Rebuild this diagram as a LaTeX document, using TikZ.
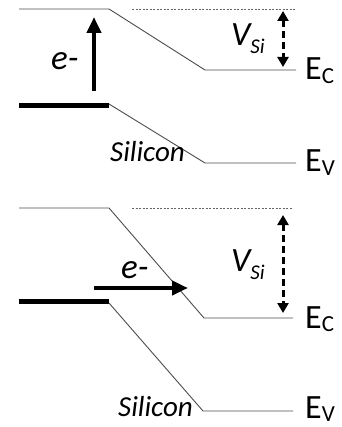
\documentclass[tikz,border=0pt]{standalone}
\usepackage{fontspec}
\setmainfont{Carlito}
\usetikzlibrary{arrows.meta}
\begin{document}
\begin{tikzpicture}[x=1pt,y=-1pt,
  band/.style={line width=0.9pt, draw=black!70},
  refline/.style={line width=0.6pt, draw=black!60, dash pattern=on 2pt off 1.5pt},
  level/.style={line width=5pt, draw=black},
  elarrow/.style={line width=4.5pt, -{Triangle[width=14pt,length=16pt]}},
  varrow/.style={line width=3pt, dash pattern=on 7pt off 4pt,
     {Triangle[width=11pt,length=10pt]}-{Triangle[width=11pt,length=10pt]}},
  lbl/.style={inner sep=0pt, anchor=base west},
  big/.style={font=\fontsize{34}{36}\selectfont},
  elbl/.style={font=\fontsize{35}{37}\selectfont\itshape},
  si/.style={font=\fontsize{29}{31}\selectfont\itshape}]
\useasboundingbox (0,0) rectangle (341,427);
\newcommand{\vsi}{\fontsize{34}{36}\selectfont\itshape V\raisebox{-8pt}{\fontsize{21}{21}\selectfont Si}}
\newcommand{\ebandlabel}[1]{E\raisebox{-3.5pt}{\fontsize{23}{23}\selectfont #1}}

% ---------- top panel ----------
\coordinate (a1) at (19,9);
\coordinate (a2) at (109,9);
\coordinate (a3) at (205,70);
\coordinate (a4) at (296,70);
\draw[band] (a1) -- (a2) -- (a3) -- (a4);
\coordinate (d1) at (132,9);
\coordinate (d2) at (296,9);
\draw[refline] (d1) -- (d2);
\coordinate (b1) at (19,105.5);
\coordinate (b2) at (109,105.5);
\draw[level] (b1) -- (b2);
\coordinate (c1) at (109,104);
\coordinate (c2) at (205,163);
\coordinate (c3) at (296,163);
\draw[band] (c1) -- (c2) -- (c3);
\coordinate (u1) at (94,91);
\coordinate (u2) at (94,17);
\draw[elarrow] (u1) -- (u2);
\coordinate (v1) at (283,11);
\coordinate (v2) at (283,67);
\draw[varrow] (v1) -- (v2);
\node[lbl,elbl] (e1) at (51,70) {e-};
\node[lbl] (vs1) at (231,46) {\vsi};
\node[lbl,big] (ec1) at (305,80) {\ebandlabel{C}};
\node[lbl,big] (ev1) at (305,172) {\ebandlabel{V}};
\node[lbl,si] (s1) at (110,162) {Silicon};

% ---------- bottom panel ----------
\coordinate (p1) at (19,208);
\coordinate (p2) at (109,208);
\coordinate (p3) at (204,318);
\coordinate (p4) at (293,318);
\draw[band] (p1) -- (p2) -- (p3) -- (p4);
\coordinate (q1) at (132,208);
\coordinate (q2) at (293,208);
\draw[refline] (q1) -- (q2);
\coordinate (r1) at (19,301);
\coordinate (r2) at (109,301);
\draw[level] (r1) -- (r2);
\coordinate (s2a) at (109,303);
\coordinate (s2b) at (203,411);
\coordinate (s2c) at (293,411);
\draw[band] (s2a) -- (s2b) -- (s2c);
\coordinate (h1) at (94,288);
\coordinate (h2) at (188,288);
\draw[elarrow] (h1) -- (h2);
\coordinate (w1) at (283,215);
\coordinate (w2) at (283,313);
\draw[varrow] (w1) -- (w2);
\node[lbl,elbl] (e2) at (121,278) {e-};
\node[lbl] (vs2) at (231,271) {\vsi};
\node[lbl,big] (ec2) at (305,328) {\ebandlabel{C}};
\node[lbl,big] (ev2) at (305,418) {\ebandlabel{V}};
\node[lbl,si] (s2) at (118,416) {Silicon};
\end{tikzpicture}
\end{document}
